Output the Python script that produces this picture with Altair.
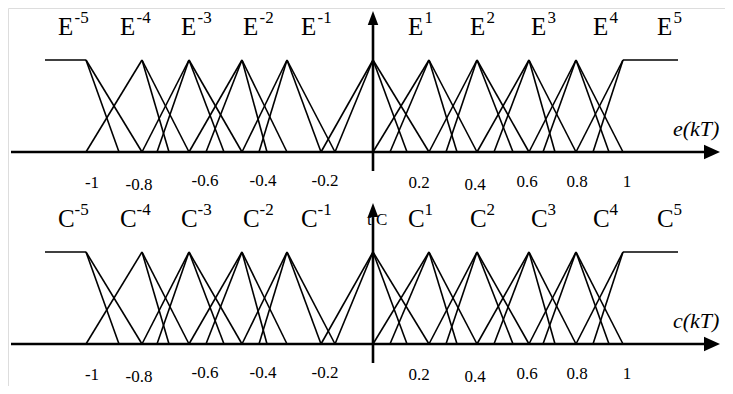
import altair as alt
import pandas as pd

# ---------------- data ----------------
# peak positions of the 11 fuzzy sets (index -5 .. 5), chart x-units
set_index = [-5, -4, -3, -2, -1, 0, 1, 2, 3, 4, 5]
peak_x = [-1.148, -0.924, -0.736, -0.524, -0.344, 0.0, 0.224, 0.416, 0.624, 0.812, 1.0]
# feet (membership 0) of the triangle edges of every set
left_feet = [[], [-1.148], [-0.924, -0.864], [-0.736, -0.668], [-0.524, -0.456],
             [-0.208, -0.152], [0.0, 0.068], [0.224, 0.292], [0.416, 0.484],
             [0.624, 0.680], [0.812, 0.880]]
right_feet = [[-1.016, -0.924], [-0.816, -0.736], [-0.596, -0.524], [-0.424, -0.344],
              [-0.208, -0.152], [0.136, 0.224], [0.336, 0.416], [0.560, 0.624],
              [0.728, 0.812], [0.944, 1.0], []]
shoulder_left = [-1.312, -1.148]
shoulder_right = [1.0, 1.22]

label_sets = ["-5", "-4", "-3", "-2", "-1", "1", "2", "3", "4", "5"]
label_x = [-1.26, -1.012, -0.768, -0.52, -0.288, 0.14, 0.388, 0.632, 0.88, 1.136]

tick_text = ["-1", "-0.8", "-0.6", "-0.4", "-0.2", "0.2", "0.4", "0.6", "0.8", "1"]
tick_x = [-1.124, -0.936, -0.672, -0.44, -0.192, 0.184, 0.408, 0.616, 0.816, 1.016]
tick_y = [-0.391, -0.413, -0.370, -0.370, -0.370, -0.391, -0.413, -0.380, -0.380, -0.380]

panels = ["E", "C"]
panel_axis_name = ["e(kT)", "c(kT)"]
panel_shift = [0.0, -2.087]

# ---------------- layout constants ----------------
W, H = 717, 378
x_dom = [-1.46, 1.408]
y_dom = [-2.5435, 1.5652]
h_axis = [-1.448, 1.324]
v_axis = [-0.2065, 1.38]

# ---------------- tables ----------------
seg_rows, axis_rows, head_r, head_u = [], [], [], []
label_rows, sup_rows, tick_rows, name_rows, extra_rows = [], [], [], [], []
for letter, name, s in zip(panels, panel_axis_name, panel_shift):
    for px_, lf, rf in zip(peak_x, left_feet, right_feet):
        for f in lf + rf:
            seg_rows.append(dict(x=f, y=s, x2=px_, y2=1 + s))
    seg_rows.append(dict(x=shoulder_left[0], y=1 + s, x2=shoulder_left[1], y2=1 + s))
    seg_rows.append(dict(x=shoulder_right[0], y=1 + s, x2=shoulder_right[1], y2=1 + s))
    axis_rows.append(dict(x=h_axis[0], y=s, x2=h_axis[1], y2=s))
    axis_rows.append(dict(x=0.0, y=v_axis[0] + s, x2=0.0, y2=v_axis[1] + s))
    head_r.append(dict(x=h_axis[1], y=s))
    head_u.append(dict(x=0.0, y=v_axis[1] + s))
    for t, lx in zip(label_sets, label_x):
        label_rows.append(dict(x=lx, y=1.2717 + s, t=letter))
        sup_rows.append(dict(x=lx, y=1.2717 + s, t=t))
    for t, tx, ty in zip(tick_text, tick_x, tick_y):
        tick_rows.append(dict(x=tx, y=ty + s, t=t))
    name_rows.append(dict(x=1.2, y=0.174 + s, t=name))
    if letter == "C":
        extra_rows.append(dict(x=-0.024, y=1.293 + s, t="t C"))

xs = alt.Scale(domain=x_dom, nice=False, zero=False)
ys = alt.Scale(domain=y_dom, nice=False, zero=False)


def rules(df, width):
    return alt.Chart(pd.DataFrame(df)).mark_rule(color="black", strokeWidth=width).encode(
        x=alt.X("x:Q", scale=xs, axis=None), y=alt.Y("y:Q", scale=ys, axis=None),
        x2="x2:Q", y2="y2:Q")


def texts(df, **kw):
    return alt.Chart(pd.DataFrame(df)).mark_text(color="black", font="Liberation Serif", **kw).encode(
        x=alt.X("x:Q", scale=xs, axis=None), y=alt.Y("y:Q", scale=ys, axis=None), text="t:N")


def heads(df, path, size):
    return alt.Chart(pd.DataFrame(df)).mark_point(
        shape=path, size=size, filled=True, color="black", opacity=1, strokeWidth=0).encode(
        x=alt.X("x:Q", scale=xs, axis=None), y=alt.Y("y:Q", scale=ys, axis=None))


chart = alt.layer(
    texts(extra_rows, align="left", baseline="alphabetic", fontSize=17),
    rules(seg_rows, 1.6),
    rules(axis_rows, 2.6),
    heads(head_r, "M0,-0.9L2,0L0,0.9Z", 256),
    heads(head_u, "M0,-2L0.75,0L-0.75,0Z", 196),
    texts(label_rows, align="left", baseline="alphabetic", fontSize=25),
    texts(sup_rows, align="left", baseline="alphabetic", fontSize=17, dx=16.5, dy=-12),
    texts(tick_rows, align="center", baseline="alphabetic", fontSize=17),
    texts(name_rows, align="left", baseline="alphabetic", fontSize=22, fontStyle="italic"),
).properties(width=W, height=H, padding=0, autosize=alt.AutoSizeParams(type="none")
).configure_view(stroke="transparent", strokeWidth=0).configure(background="white")

chart.save("out.html", embed_options={"renderer": "svg", "actions": False})
